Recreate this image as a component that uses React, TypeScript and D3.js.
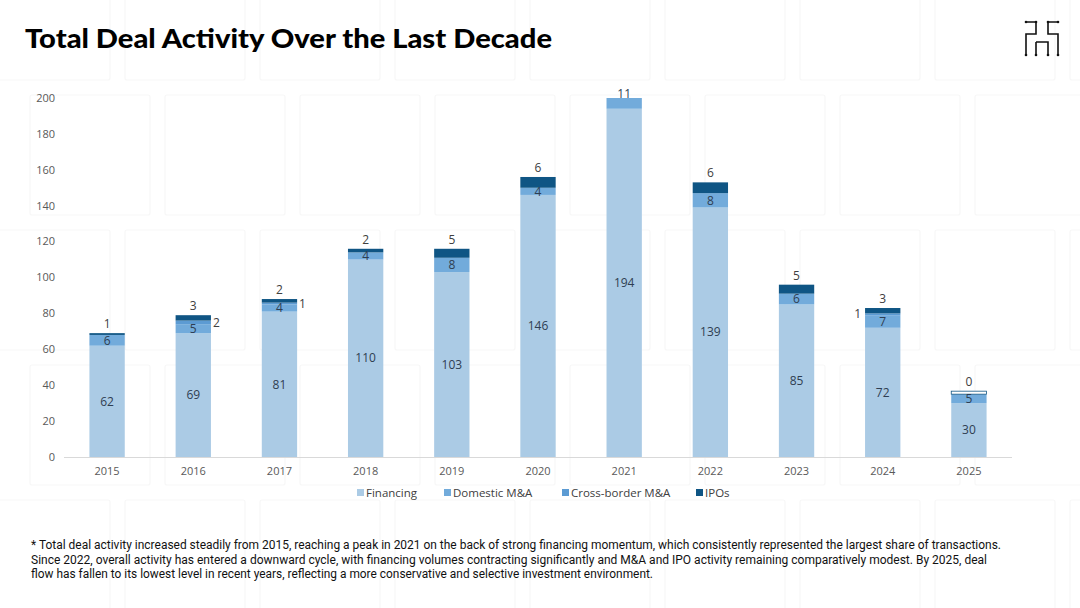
import * as d3 from 'd3';

const years = ['2015', '2016', '2017', '2018', '2019', '2020', '2021', '2022', '2023', '2024', '2025'];
const financing = [62, 69, 81, 110, 103, 146, 194, 139, 85, 72, 30];
const domestic = [6, 5, 4, 4, 8, 4, 11, 8, 6, 7, 5];
const crossBorder = [0, 2, 1, 0, 0, 0, 0, 0, 0, 1, 0];
const ipos = [1, 3, 2, 2, 5, 6, 0, 6, 5, 3, 0];
const yTicks = [0, 20, 40, 60, 80, 100, 120, 140, 160, 180, 200];
const seriesNames = ['Financing', 'Domestic M&A', 'Cross-border M&A', 'IPOs'];
const colors = ['#abcbe5', '#72abdb', '#5c9bd3', '#0f5584'];
const notes = [
    '* Total deal activity increased steadily from 2015, reaching a peak in 2021 on the back of strong financing momentum, which consistently represented the largest share of transactions.',
    'Since 2022, overall activity has entered a downward cycle, with financing volumes contracting significantly and M&A and IPO activity remaining comparatively modest. By 2025, deal',
    'flow has fallen to its lowest level in recent years, reflecting a more conservative and selective investment environment.'
];
const noteWidths = [970, 956, 622];

const App = () => {
    const width = 1080;
    const height = 608;
    const x = d3.scaleBand().domain(years).range([64, 1012]).paddingInner(0.59).paddingOuter(0.295);
    const y = d3.scaleLinear().domain([0, 200]).range([457, 98]);
    const maxV = 200;

    const rows = years.map((yr, i) => ({ year: yr, values: [financing[i], domestic[i], crossBorder[i], ipos[i]] }));
    const stack = d3.stack<any>()
        .keys(['0', '1', '2', '3'])
        .value((d: any, k: string) => d.values[+k]);
    const series = stack(rows);

    const font = "'Open Sans', 'Noto Sans', sans-serif";
    const clip = (v: number) => Math.min(v, maxV);

    // faint tiled background
    const tiles: any[] = [];
    for (let c = 0; c < 9; c++) {
        for (let r = 0; r < 5; r++) {
            tiles.push({ x: c * 135 - 10 + (r % 2) * 40, y: r * 135 - 40 });
        }
    }

    return (
        <svg width={width} height={height} style={{ position: 'absolute', left: 0, top: 0, background: '#fff' }}>
            <g stroke="#f7f7f7" fill="none" strokeWidth={1.2}>
                {tiles.map((t, i) => (
                    <rect key={i} x={t.x} y={t.y} width={120} height={120} rx={2} />
                ))}
            </g>

            <text x={25} y={48} fontFamily="Lato, 'Noto Sans', sans-serif" fontWeight={900} fontSize={26}
                fill="#000" textLength={527} lengthAdjust="spacingAndGlyphs">
                Total Deal Activity Over the Last Decade
            </text>

            {/* logo */}
            <g stroke="#111" strokeWidth={1.6} fill="none">
                <path d="M1026,22 H1036 V34 H1026 V42 M1048,22 H1058 M1048,22 V34 H1058 V42 M1026,42 V55 M1058,42 V55 M1036,42 H1048 V55 M1036,42 V55" />
                <g fill="#111" stroke="none">
                    {[[1026, 22], [1036, 22], [1048, 22], [1058, 22], [1026, 55], [1036, 55], [1048, 55], [1058, 55]].map((p, i) => (
                        <circle key={i} cx={p[0]} cy={p[1]} r={1.3} />
                    ))}
                </g>
            </g>

            {/* y axis labels */}
            {yTicks.map(t => (
                <text key={t} x={55} y={y(t)} dy="0.35em" textAnchor="end" fontFamily={font} fontSize={11} fill="#595959">{t}</text>
            ))}

            {/* x axis */}
            <line x1={64} x2={1012} y1={457.5} y2={457.5} stroke="#d9d9d9" />
            {years.map(yr => (
                <text key={yr} x={(x(yr) as number) + x.bandwidth() / 2} y={475} textAnchor="middle" fontFamily={font} fontSize={11} fill="#595959">{yr}</text>
            ))}

            {/* bars */}
            {series.map((s: any, si: number) => (
                <g key={si} fill={colors[si]}>
                    {s.map((d: any, i: number) => {
                        const top = clip(d[1]);
                        const bot = clip(d[0]);
                        if (top - bot <= 0) return null;
                        return <rect key={i} x={x(years[i])} y={y(top)} width={x.bandwidth()} height={y(bot) - y(top)} />;
                    })}
                </g>
            ))}

            {/* zero IPO marker */}
            {rows.map((r, i) => r.values[3] === 0 && r.values[0] < 100 ? (
                <rect key={i} x={x(r.year)} y={y(series[3][i][1]) - 3} width={x.bandwidth()} height={3}
                    fill="#fff" stroke="#0f5584" strokeWidth={0.8} />
            ) : null)}

            {/* labels */}
            {rows.map((r, i) => {
                const cx = (x(r.year) as number) + x.bandwidth() / 2;
                const s0 = series[0][i];
                const s1 = series[1][i];
                const s2 = series[2][i];
                const s3 = series[3][i];
                const labels: any[] = [];
                labels.push(<text key="f" x={cx} y={y((s0[0] + s0[1]) / 2)} dy="0.35em" textAnchor="middle" fontFamily={font} fontSize={12} fill="#2f3e52">{r.values[0]}</text>);
                const dTop = clip(s1[1]);
                const dMid = s1[1] > maxV ? maxV + 2.5 : (s1[0] + dTop) / 2;
                labels.push(<text key="d" x={cx} y={y(dMid)} dy="0.35em" textAnchor="middle" fontFamily={font} fontSize={12} fill="#2f3e52">{r.values[1]}</text>);
                if (r.values[2] > 0) {
                    const left = r.year === '2024';
                    const bx = left ? (x(r.year) as number) - 4 : (x(r.year) as number) + x.bandwidth() + 2;
                    labels.push(<text key="c" x={bx} y={y((s2[0] + s2[1]) / 2)} dy="0.35em" textAnchor={left ? 'end' : 'start'} fontFamily={font} fontSize={12} fill="#404040">{r.values[2]}</text>);
                }
                if (s3[1] <= maxV) {
                    const extra = r.values[3] === 0 ? 3 : 0;
                    labels.push(<text key="i" x={cx} y={y(s3[1]) - 5 - extra} textAnchor="middle" fontFamily={font} fontSize={12} fill="#404040">{r.values[3]}</text>);
                }
                return <g key={i}>{labels}</g>;
            })}

            {/* legend */}
            {seriesNames.map((n, i) => {
                const lx = [357, 444, 562, 696][i];
                return (
                    <g key={n} transform={`translate(${lx},493)`}>
                        <rect x={0} y={-4} width={7} height={7} fill={colors[i]} />
                        <text x={9} y={0} dy="0.35em" fontFamily={font} fontSize={11.5} fill="#404040">{n}</text>
                    </g>
                );
            })}

            {/* footnote */}
            {notes.map((t, i) => (
                <text key={i} x={31} y={549 + i * 14.5} fontFamily="'Liberation Sans Narrow', 'Roboto', sans-serif" fontSize={12} fill="#111"
                    textLength={noteWidths[i]} lengthAdjust="spacingAndGlyphs">{t}</text>
            ))}
        </svg>
    );
};

export default App;
